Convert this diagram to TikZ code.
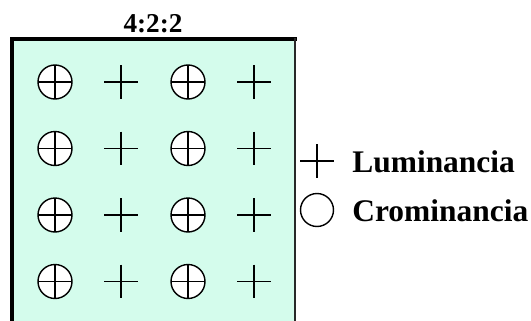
\documentclass[tikz,border=0pt]{standalone}
\usepackage{fontspec}
\setmainfont{Liberation Serif}
\usepackage{xcolor}
\definecolor{gridmint}{RGB}{212,252,236}
\definecolor{framegray}{RGB}{40,40,40}
\usetikzlibrary{positioning}
\tikzset{
  luma/.style={minimum size=0.68cm, inner sep=0pt, path picture={
      \draw[line width=1pt] (path picture bounding box.north) -- (path picture bounding box.south)
           (path picture bounding box.west) -- (path picture bounding box.east);}},
  chroma/.style={luma, circle, draw, fill=white, line width=0.8pt},
  legendtext/.style={font=\fontsize{17.9}{20}\selectfont\bfseries, anchor=base west, inner sep=0pt}
}
\begin{document}
\begin{tikzpicture}[x=0.02cm, y=-0.02cm]
  \useasboundingbox (0,0) rectangle (531,321);
  % sampling block
  \fill[gridmint] (12,39) rectangle (295,330);
  \draw[line width=2.2pt, line cap=rect] (12,330) -- (12,39) -- (295,39);
  \draw[framegray, line width=1.3pt] (295,38) -- (295,330);
  \node[font=\fontsize{15.5}{18}\selectfont\bfseries, anchor=base, inner sep=0pt] (title) at (153,32) {4:2:2};
  % samples
  \foreach \r/\y in {1/82,2/148.5,3/215,4/281.5} {
    \node[chroma] (c\r a) at (55,\y) {};
    \node[luma]   (l\r a) at (121,\y) {};
    \node[chroma] (c\r b) at (188,\y) {};
    \node[luma]   (l\r b) at (254,\y) {};
  }
  % legend
  \node[luma] (lumakey) at (317,161) {};
  \node[circle, draw, line width=0.8pt, minimum size=0.66cm, inner sep=0pt] (chromakey) at (317,210) {};
  \node[legendtext] (lumatext) at (352,172.5) {Luminancia};
  \node[legendtext] (chromatext) at (352,221.5) {Crominancia};
\end{tikzpicture}
\end{document}
